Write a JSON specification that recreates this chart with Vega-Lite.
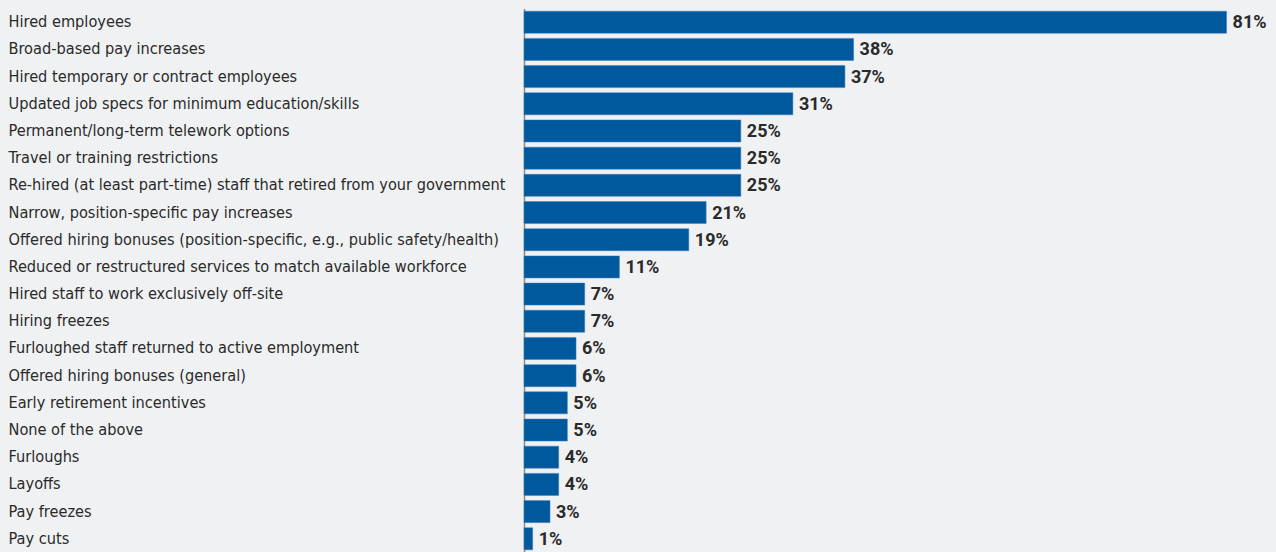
{
  "$schema": "https://vega.github.io/schema/vega-lite/v6.json",
  "autosize": {"type": "none"},
  "padding": {"left": 524, "top": 8.5, "right": 0, "bottom": 0},
  "width": 752,
  "height": 544,
  "background": "#f0f1f3",
  "config": {"view": {"stroke": null}},
  "data": {"values": [
    {"item": "Hired employees", "pct": 81},
    {"item": "Broad-based pay increases", "pct": 38},
    {"item": "Hired temporary  or contract employees", "pct": 37},
    {"item": "Updated job specs for minimum education/skills", "pct": 31},
    {"item": "Permanent/long-term telework options", "pct": 25},
    {"item": "Travel or training restrictions", "pct": 25},
    {"item": "Re-hired (at least part-time) staff that retired from your government", "pct": 25},
    {"item": "Narrow, position-specific pay increases", "pct": 21},
    {"item": "Offered hiring bonuses (position-specific, e.g., public safety/health)", "pct": 19},
    {"item": "Reduced or restructured services to match available workforce", "pct": 11},
    {"item": "Hired staff to work exclusively off-site", "pct": 7},
    {"item": "Hiring freezes", "pct": 7},
    {"item": "Furloughed staff returned to active employment", "pct": 6},
    {"item": "Offered hiring bonuses (general)", "pct": 6},
    {"item": "Early retirement incentives", "pct": 5},
    {"item": "None of the above", "pct": 5},
    {"item": "Furloughs", "pct": 4},
    {"item": "Layoffs", "pct": 4},
    {"item": "Pay freezes", "pct": 3},
    {"item": "Pay cuts", "pct": 1}
  ]},
  "transform": [{"calculate": "datum.pct + '%'", "as": "label"}],
  "encoding": {
    "y": {
      "field": "item", "type": "nominal", "sort": null, "title": null,
      "scale": {"paddingInner": 0.19, "paddingOuter": 0.1},
      "axis": {
        "ticks": false, "labelAlign": "left", "labelPadding": 516,
        "labelFont": "DejaVu Sans Condensed, Roboto, sans-serif", "labelFontSize": 16.2,
        "labelColor": "#2a2a2a", "labelLimit": 0,
        "domainColor": "#8a8a8a", "domainWidth": 1.5
      }
    },
    "x": {
      "field": "pct", "type": "quantitative",
      "scale": {"domain": [0, 86.7], "nice": false},
      "axis": null
    }
  },
  "layer": [
    {"mark": {"type": "bar", "color": "#00599d", "stroke": "#3a7fbd", "strokeWidth": 0.5}},
    {
      "mark": {"type": "text", "align": "left", "dx": 6, "font": "Roboto, sans-serif", "fontWeight": "bold", "fontSize": 18, "color": "#2a2a2a", "baseline": "middle", "dy": 1},
      "encoding": {"text": {"field": "label", "type": "nominal"}}
    }
  ]
}
